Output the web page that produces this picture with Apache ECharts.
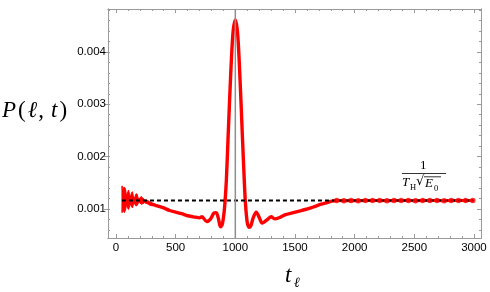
<!DOCTYPE html>
<html><head><meta charset="utf-8">
<script src="https://cdn.jsdelivr.net/npm/echarts@6/dist/echarts.min.js"></script>
<style>html,body{margin:0;padding:0;background:#fff}#c{width:490px;height:292px}</style>
</head><body><div id="c"></div>
<script>
// ---- tick values ----
const xMajorTicks = [0, 500, 1000, 1500, 2000, 2500, 3000];
const xMinorTicks = [0,100,200,300,400,500,600,700,800,900,1000,1100,1200,1300,1400,1500,1600,1700,1800,1900,2000,2100,2200,2300,2400,2500,2600,2700,2800,2900,3000];
const yMajorTicks = [0.001, 0.002, 0.003, 0.004];
const yMinorTicks = [0.0006,0.0008,0.0010,0.0012,0.0014,0.0016,0.0018,0.0020,0.0022,0.0024,0.0026,0.0028,0.0030,0.0032,0.0034,0.0036,0.0038,0.0040,0.0042,0.0044,0.0046,0.0048];

// ---- early fast oscillation: envelope ----
const bandT     = [50, 52, 55, 62, 70, 80, 88, 95, 105, 112, 120, 130, 138, 145, 155, 165, 175, 185, 195, 210, 225, 240, 260, 280, 300];
const bandUpper = [0.00144,0.00144,0.00130,0.00140,0.00142,0.00138,0.00125,0.00130,0.00136,0.00130,0.00122,0.00131,0.00133,0.00125,0.00120,0.00128,0.00129,0.00122,0.00119,0.00124,0.00121,0.00117,0.00117,0.00114,0.00112];
const bandLower = [0.00093,0.00093,0.00108,0.00095,0.00093,0.00098,0.00108,0.00103,0.00099,0.00103,0.00110,0.00104,0.00102,0.00107,0.00111,0.00106,0.00106,0.00110,0.00113,0.00109,0.00110,0.00112,0.00110,0.00108,0.00106];

// ---- main curve ----
const mainT = [280,300,330,360,400,450,500,550,600,650,700,720,760,790,820,840,860,875,890,905,915,925,940,960,980,1000,1020,1040,1060,1075,1085,1100,1115,1130,1150,1175,1200,1225,1260,1300,1330,1375,1420,1470,1520,1570,1620,1670,1720,1770,1810,1850];
const mainP = [0.00110,0.00109,0.00107,0.00105,0.00102,0.00097,0.00094,0.00091,0.00087,0.00085,0.00083,0.00085,0.00076,0.00080,0.00092,0.00093,0.00080,0.00066,0.00070,0.00092,0.00118,0.00155,0.00240,0.00350,0.00435,0.00461,0.00433,0.00345,0.00235,0.00155,0.00110,0.00074,0.00065,0.00068,0.00083,0.00094,0.00084,0.00073,0.00078,0.00085,0.00081,0.00084,0.00089,0.00092,0.00095,0.00098,0.00101,0.00105,0.00109,0.00112,0.00115,0.00116];

// ---- late plateau with sample dots ----
const dotT = [1850,1910,1970,2030,2090,2150,2210,2270,2330,2390,2450,2510,2570,2630,2690,2750,2810,2870,2930,2990];
const dotP = [0.001162,0.001158,0.001163,0.001159,0.001162,0.001160,0.001163,0.001158,0.001161,0.001160,0.001162,0.001159,0.001161,0.001160,0.001162,0.001159,0.001161,0.001160,0.001161,0.001160];

// ---- reference level 1/(T_H sqrt(E0)) ----
const refT = [50, 3000];
const refP = [0.00116, 0.00116];
const markerT = 1000;

const X_MIN = -67, X_MAX = 3059, Y_MIN = 0.000445, Y_MAX = 0.00482;
const FRAME = '#9a9a9a';
const RED = '#ff0000';
const GRID = {left:108, top:9, right:9, bottom:54, outerBoundsMode:'none'};

function xAx(grid, pos, ticks, len, labels){
  return {type:'value', gridIndex:grid, position:pos, min:X_MIN, max:X_MAX,
    axisLine:{show:true, onZero:false, lineStyle:{color:FRAME, width:1}},
    axisTick:{show:true, inside:true, length:len, customValues:ticks, lineStyle:{color:FRAME, width:1}},
    axisLabel:{show:labels, customValues:ticks, formatter:v=>String(v), fontSize:11.5, color:'#000', margin:4, fontFamily:'Liberation Sans'},
    splitLine:{show:false}};
}
function yAx(grid, pos, ticks, len, labels, inside){
  return {type:'value', gridIndex:grid, position:pos, min:Y_MIN, max:Y_MAX,
    axisLine:{show:true, onZero:false, lineStyle:{color:FRAME, width:1}},
    axisTick:{show:true, inside:inside, length:len, customValues:ticks, lineStyle:{color:FRAME, width:1}},
    axisLabel:{show:labels, customValues:ticks, formatter:v=>v.toFixed(3), fontSize:11.5, color:'#000', margin:2, fontFamily:'Liberation Sans'},
    splitLine:{show:false}};
}

const chart = echarts.init(document.getElementById('c'), null, {renderer:'canvas'});
const serif = 'Liberation Serif';
const option = {
  animation:false,
  backgroundColor:'#fff',
  grid:[Object.assign({}, GRID), Object.assign({}, GRID)],
  xAxis:[xAx(0,'bottom',xMajorTicks,4,true), xAx(0,'top',xMajorTicks,4,false),
         xAx(1,'bottom',xMinorTicks,2,false), xAx(1,'top',xMinorTicks,2,false)],
  yAxis:[yAx(0,'left',yMajorTicks,4,true,false), yAx(0,'right',yMajorTicks,4,false,true),
         yAx(1,'left',yMinorTicks,2,false,true), yAx(1,'right',yMinorTicks,2,false,true)],
  series:[
    {type:'custom', xAxisIndex:0, yAxisIndex:0, z:3, clip:true,
      data: bandT.map((t,i)=>[t, bandLower[i], bandUpper[i]]),
      encode:{x:0, y:[1,2]},
      renderItem:function(params, api){
        if (params.dataIndex !== 0) return null;
        const pts = [];
        for (let i=0;i<bandT.length;i++) pts.push(api.coord([bandT[i], bandUpper[i]]));
        for (let i=bandT.length-1;i>=0;i--) pts.push(api.coord([bandT[i], bandLower[i]]));
        return {type:'polygon', shape:{points:pts}, style:{fill:RED, stroke:RED, lineWidth:1}};
      }},
    {type:'line', xAxisIndex:0, yAxisIndex:0, z:3, symbol:'none', smooth:0.3,
      data: mainT.map((t,i)=>[t, mainP[i]]),
      lineStyle:{color:RED, width:3.4}},
    {type:'line', xAxisIndex:0, yAxisIndex:0, z:3, symbol:'none',
      data: dotT.map((t,i)=>[t, dotP[i]]),
      lineStyle:{color:RED, width:3}},
    {type:'line', xAxisIndex:0, yAxisIndex:0, z:4, symbol:'none',
      data: refT.map((t,i)=>[t, refP[i]]),
      lineStyle:{color:'#000', width:2, type:[4,3]}},
    {type:'scatter', xAxisIndex:0, yAxisIndex:0, z:5, symbol:'circle', symbolSize:5.5,
      data: dotT.map((t,i)=>[t, dotP[i]]),
      itemStyle:{color:RED}},
    {type:'line', xAxisIndex:0, yAxisIndex:0, z:6, symbol:'none',
      data: [[markerT, Y_MIN], [markerT, Y_MAX]],
      lineStyle:{color:'#8f8f8f', width:1.5}}
  ],
  graphic:[
    {type:'text', left:2, top:99, z:10, style:{
      text:'{i|P}{n|(}{i|ℓ}{c|,}{i|t}{n|)}',
      rich:{i:{fontFamily:serif, fontStyle:'italic', fontSize:23, fill:'#000', padding:[0,1,0,1]},
            n:{fontFamily:serif, fontSize:23, fill:'#000', padding:[0,1,0,1]},
            c:{fontFamily:serif, fontSize:23, fill:'#000', padding:[0,6,0,0]}}}},
    {type:'text', left:285, top:264, z:10, style:{text:'t', fontFamily:serif, fontStyle:'italic', fontSize:23, fill:'#000'}},
    {type:'text', left:294, top:276, z:10, style:{text:'ℓ', fontFamily:serif, fontStyle:'italic', fontSize:14, fill:'#000'}},
    // label 1/(T_H sqrt(E0))
    {type:'text', left:420, top:159, z:10, style:{text:'1', fontFamily:serif, fontSize:13, fill:'#000'}},
    {type:'line', z:10, shape:{x1:402, y1:173.5, x2:446, y2:173.5}, style:{stroke:'#000', lineWidth:0.8}},
    {type:'text', left:402, top:176, z:10, style:{text:'T', fontFamily:serif, fontStyle:'italic', fontSize:13, fill:'#000'}},
    {type:'text', left:410, top:183, z:10, style:{text:'H', fontFamily:serif, fontSize:8.5, fill:'#000'}},
    {type:'text', left:416, top:175, z:10, style:{text:'√', fontFamily:'DejaVu Serif', fontSize:13, fill:'#000'}},
    {type:'line', z:10, shape:{x1:424, y1:176.8, x2:441, y2:176.8}, style:{stroke:'#000', lineWidth:0.8}},
    {type:'text', left:425, top:177, z:10, style:{text:'E', fontFamily:serif, fontStyle:'italic', fontSize:13, fill:'#000'}},
    {type:'text', left:434, top:184, z:10, style:{text:'0', fontFamily:serif, fontSize:8.5, fill:'#000'}}
  ]
};
chart.setOption(option);
</script>
</body></html>
